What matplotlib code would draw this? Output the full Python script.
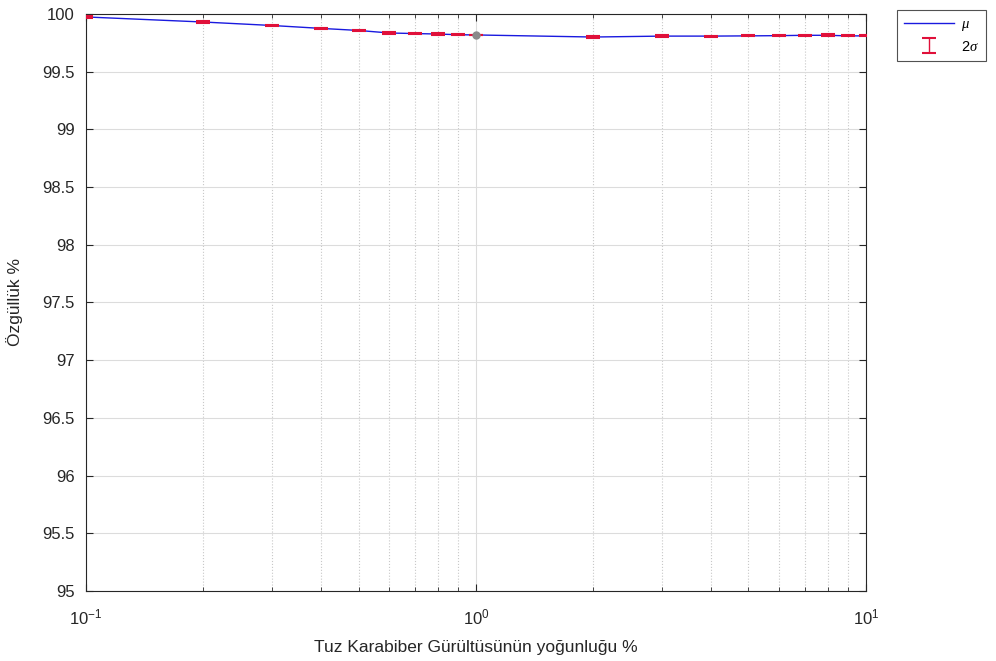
import numpy as np
import matplotlib.pyplot as plt
from matplotlib.ticker import LogLocator, NullFormatter, FixedLocator

plt.rcParams['font.family'] = ['Liberation Sans', 'DejaVu Sans']
plt.rcParams['mathtext.fontset'] = 'custom'
plt.rcParams['mathtext.rm'] = 'Liberation Sans'
plt.rcParams['mathtext.it'] = 'Liberation Serif:italic'

# Noise density (%) and specificity mean / 2 sigma
density = [0.1, 0.2, 0.3, 0.4, 0.5, 0.6, 0.7, 0.8, 0.9, 1.0,
           2, 3, 4, 5, 6, 7, 8, 9, 10]
mu = [99.974, 99.930, 99.900, 99.875, 99.857, 99.835, 99.830, 99.826, 99.820, 99.818,
      99.800, 99.808, 99.808, 99.810, 99.812, 99.815, 99.815, 99.810, 99.810]
two_sigma = [0.005, 0.008, 0.005, 0.005, 0.005, 0.005, 0.005, 0.008, 0.005, 0.0,
             0.006, 0.006, 0.005, 0.005, 0.005, 0.006, 0.008, 0.005, 0.005]
xtick_labels = [r'$\mathregular{10^{-1}}$', r'$\mathregular{10^{0}}$', r'$\mathregular{10^{1}}$']

fig = plt.figure(figsize=(9.96, 6.61), dpi=100)
ax = fig.add_axes([0.0863, 0.1059, 0.783, 0.873])

ax.plot(density, mu, color='#1a1adf', lw=1.0, label=r'$\mu$', zorder=3)
ax.errorbar(density, mu, yerr=two_sigma, fmt='none', ecolor='#e0103a',
            elinewidth=1.0, capsize=5, capthick=1.5, label=r'2$\sigma$', zorder=4)
ax.plot([1.0], [mu[9]], 'o', color='#8a8a8a', ms=5, zorder=5)

ax.set_xscale('log')
ax.set_xlim(0.1, 10)
ax.set_ylim(95, 100)
ax.set_yticks(np.arange(95, 100.01, 0.5))
ax.set_yticklabels(['95', '95.5', '96', '96.5', '97', '97.5', '98', '98.5', '99', '99.5', '100'])
ax.xaxis.set_major_locator(FixedLocator([0.1, 1, 10]))
ax.set_xticklabels(xtick_labels)
ax.xaxis.set_minor_locator(LogLocator(base=10, subs=np.arange(2, 10)))
ax.xaxis.set_minor_formatter(NullFormatter())

ax.grid(True, which='major', color='#dcdcdc', lw=0.8, ls='-')
ax.grid(True, which='minor', axis='x', color='#c8c8c8', lw=0.8, ls=':')
ax.set_axisbelow(True)

ax.tick_params(which='both', direction='in', top=True, right=True, labelsize=12,
               colors='#262626')
ax.tick_params(axis='x', which='major', pad=12)
ax.tick_params(axis='y', pad=8)
ax.tick_params(which='major', length=5)
ax.tick_params(which='minor', length=3)
for s in ax.spines.values():
    s.set_color('#262626')
    s.set_linewidth(0.8)

ax.set_xlabel('Tuz Karabiber Gürültüsünün yoğunluğu %', fontsize=12.5, color='#262626',
              labelpad=9)
ax.set_ylabel('Özgüllük %', fontsize=12.5, color='#262626', labelpad=14)

leg = ax.legend(loc='upper left', bbox_to_anchor=(1.04, 1.007), borderaxespad=0,
                fontsize=10.5, frameon=True, fancybox=False, edgecolor='#262626',
                handlelength=3.4, borderpad=0.5, labelspacing=0.45, handletextpad=0.5)
leg.get_frame().set_linewidth(0.8)

fig.savefig('out.png', dpi=100)
